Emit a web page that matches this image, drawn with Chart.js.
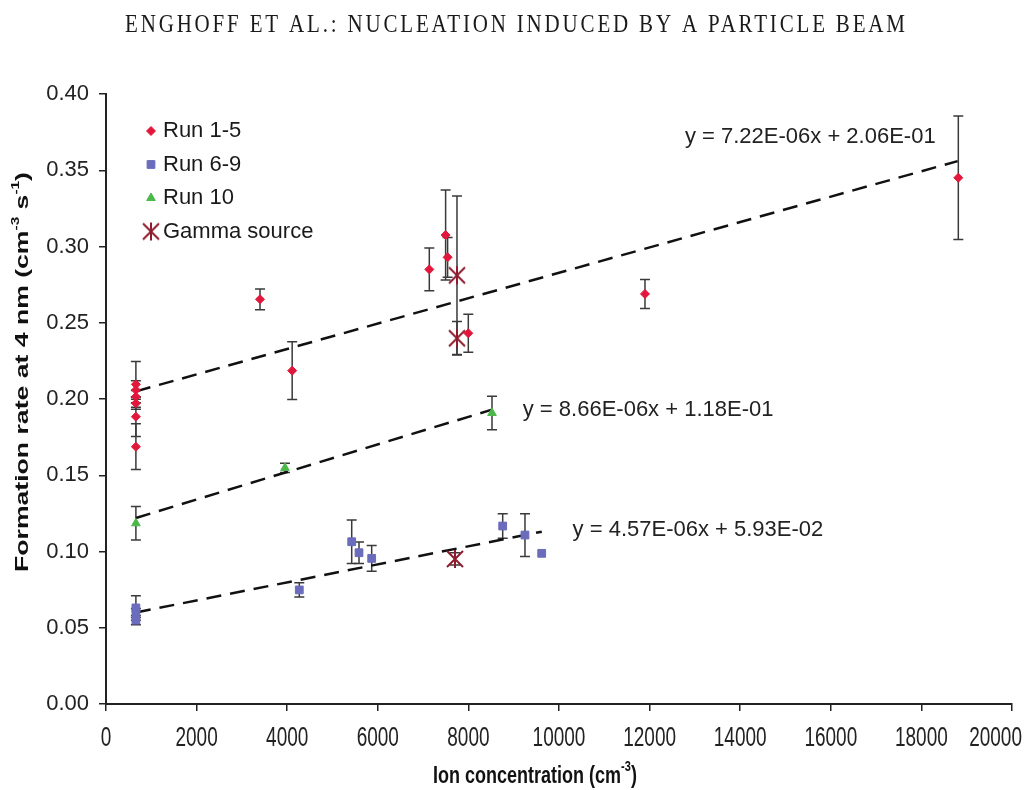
<!DOCTYPE html>
<html>
<head>
<meta charset="utf-8">
<script src="https://cdn.jsdelivr.net/npm/chart.js@4.4.1/dist/chart.umd.min.js"></script>
<style>
  html, body { margin: 0; padding: 0; background: #fff; }
</style>
</head>
<body>
<canvas id="chart" width="1024" height="790"></canvas>
<script>
// Run 1-5 (red diamonds)
const run15X = [660, 660, 660, 660, 660, 660, 3400, 4110, 7137, 7497, 7541, 7998, 11898, 18815];
const run15Y = [0.2096, 0.2059, 0.2015, 0.1972, 0.1884, 0.1687, 0.2654, 0.2186, 0.285, 0.3075, 0.2929, 0.2431, 0.2689, 0.3451];
const run15Err = [0.015, 0.006, 0.004, 0.004, 0.013, 0.015, 0.0068, 0.019, 0.014, 0.0295, 0.013, 0.0125, 0.0095, 0.0405];

// Run 6-9 (blue squares)
const run69X = [660, 660, 660, 4267, 5424, 5585, 5865, 8757, 9249, 9618];
const run69Y = [0.063, 0.0597, 0.055, 0.0748, 0.1064, 0.0992, 0.0955, 0.1167, 0.1108, 0.0988];
const run69Err = [0.008, 0.003, 0.003, 0.0047, 0.0142, 0.007, 0.0085, 0.008, 0.014, 0];

// Run 10 (green triangles)
const run10X = [660, 3951, 8521];
const run10Y = [0.1185, 0.1548, 0.1908];
const run10Err = [0.011, 0.003, 0.011];

// Gamma source
const gammaX = [7748, 7748, 7704];
const gammaY = [0.2811, 0.2398, 0.0951];
const gammaErr = [0.052, 0.011, 0.004];

// trend lines (end points as drawn)
const trend15X = [660, 18800], trend15Y = [0.205, 0.356];
const trend10X = [660, 8520], trend10Y = [0.122, 0.193];
const trend69X = [660, 9620], trend69Y = [0.060, 0.113];

const equations = ['y = 7.22E-06x + 2.06E-01', 'y = 8.66E-06x + 1.18E-01', 'y = 4.57E-06x + 5.93E-02'];
const legendLabels = ['Run 1-5', 'Run 6-9', 'Run 10', 'Gamma source'];
const titleText = 'ENGHOFF ET AL.: NUCLEATION INDUCED BY A PARTICLE BEAM';

const RED = '#e2173c', BLUE = '#6b6cbc', GREEN = '#4cb84a', GAMMA = '#8e1b2e';
const SANS = "'Liberation Sans', Arial, sans-serif";

// star-like marker for the gamma source (X with a vertical stroke)
function makeGammaMarker() {
    const c = document.createElement('canvas');
    c.width = 20; c.height = 20;
    const g = c.getContext('2d');
    g.strokeStyle = GAMMA;
    g.lineWidth = 2;
    g.beginPath();
    g.moveTo(2, 2); g.lineTo(18, 18);
    g.moveTo(18, 2); g.lineTo(2, 18);
    g.moveTo(10, 1); g.lineTo(10, 19);
    g.stroke();
    return c;
}
const gammaMarker = makeGammaMarker();

function points(xs, ys) {
    return xs.map((x, i) => ({ x: x, y: ys[i] }));
}

const errorSets = [run15Err, run69Err, run10Err, gammaErr];

// error bars under the markers
const errorBars = {
    id: 'errorBars',
    beforeDatasetsDraw(chart) {
        const ctx = chart.ctx;
        const xs = chart.scales.x, ys = chart.scales.y;
        ctx.save();
        ctx.strokeStyle = '#3a3a3a';
        ctx.lineWidth = 1.5;
        errorSets.forEach((errs, d) => {
            chart.data.datasets[d].data.forEach((p, i) => {
                const e = errs[i];
                if (!e) return;
                const px = xs.getPixelForValue(p.x);
                const top = ys.getPixelForValue(p.y + e);
                const bot = ys.getPixelForValue(p.y - e);
                ctx.beginPath();
                ctx.moveTo(px, top); ctx.lineTo(px, bot);
                ctx.moveTo(px - 5, top); ctx.lineTo(px + 5, top);
                ctx.moveTo(px - 5, bot); ctx.lineTo(px + 5, bot);
                ctx.stroke();
            });
        });
        ctx.restore();
    }
};

// text stretched along its own height, like the scanned figure
function tallText(ctx, text, x, y, stretch) {
    ctx.save();
    ctx.translate(x, y);
    ctx.scale(1, stretch);
    ctx.fillText(text, 0, 0);
    ctx.restore();
}

function drawRich(ctx, parts, x, y, size) {
    const widths = parts.map(p => {
        ctx.font = 'bold ' + (p.sup ? Math.round(size * 0.6) : size) + 'px ' + SANS;
        return ctx.measureText(p.t).width;
    });
    let cx = x - widths.reduce((a, b) => a + b, 0) / 2;
    parts.forEach((p, i) => {
        ctx.font = 'bold ' + (p.sup ? Math.round(size * 0.6) : size) + 'px ' + SANS;
        ctx.fillText(p.t, cx, p.sup ? y - size * 0.38 : y);
        cx += widths[i];
    });
}

const decorations = {
    id: 'decorations',
    afterDraw(chart) {
        const ctx = chart.ctx;
        const xs = chart.scales.x, ys = chart.scales.y;
        ctx.save();
        ctx.fillStyle = '#1a1a1a';
        ctx.textBaseline = 'middle';

        // page header
        ctx.font = "21px 'Liberation Serif', 'DejaVu Serif', serif";
        ctx.textAlign = 'left';
        const w = ctx.measureText(titleText).width;
        const spacing = Math.max(0, (780 - w) / (titleText.length - 1));
        ctx.letterSpacing = spacing + 'px';
        tallText(ctx, titleText, 125, 25, 1.2);
        ctx.letterSpacing = '0px';

        // x tick labels (last one kept inside the canvas)
        ctx.font = '19px ' + SANS;
        ctx.fillStyle = '#222';
        ctx.textAlign = 'center';
        xs.ticks.forEach(t => {
            const label = String(t.value);
            const half = ctx.measureText(label).width / 2;
            const cx = Math.min(xs.getPixelForValue(t.value), chart.width - 2 - half);
            tallText(ctx, label, cx, 738, 1.5);
        });

        // trend line equations
        ctx.font = '22px ' + SANS;
        ctx.textAlign = 'left';
        ctx.fillText(equations[0], xs.getPixelForValue(12780), ys.getPixelForValue(0.372));
        ctx.fillText(equations[1], xs.getPixelForValue(9200), ys.getPixelForValue(0.193));
        ctx.fillText(equations[2], xs.getPixelForValue(10300), ys.getPixelForValue(0.114));

        // legend
        const styles = [
            { pointStyle: 'rectRot', radius: 4.5, color: RED },
            { pointStyle: 'rect', radius: 5.5, color: BLUE },
            { pointStyle: 'triangle', radius: 5, color: GREEN },
            { pointStyle: gammaMarker, radius: 9, color: GAMMA }
        ];
        legendLabels.forEach((label, i) => {
            const ly = 131 + i * 33.5;
            const s = styles[i];
            ctx.fillStyle = s.color;
            ctx.strokeStyle = s.color;
            ctx.lineWidth = 1;
            Chart.helpers.drawPoint(ctx, { pointStyle: s.pointStyle, radius: s.radius, rotation: 0, borderWidth: 1 }, 151, ly);
            ctx.fillStyle = '#1a1a1a';
            ctx.font = '22px ' + SANS;
            ctx.textAlign = 'left';
            ctx.fillText(label, 163, ly);
        });

        // axis titles
        ctx.fillStyle = '#111';
        ctx.textAlign = 'left';
        ctx.save();
        ctx.translate(535, 776);
        ctx.scale(1, 1.35);
        drawRich(ctx, [{ t: 'Ion concentration (cm' }, { t: '-3', sup: true }, { t: ')' }], 0, 0, 18);
        ctx.restore();
        ctx.translate(23, 372);
        ctx.rotate(-Math.PI / 2);
        ctx.scale(1.4, 1);
        drawRich(ctx, [{ t: 'Formation rate at 4 nm (cm' }, { t: '-3', sup: true }, { t: ' s' }, { t: '-1', sup: true }, { t: ')' }], 0, 0, 19);
        ctx.restore();
    }
};

const trendStyle = {
    type: 'line',
    borderColor: '#111',
    borderWidth: 2.5,
    borderDash: [15, 9],
    pointRadius: 0,
    fill: false,
    showLine: true
};

new Chart(document.getElementById('chart'), {
    type: 'scatter',
    data: {
        datasets: [
            { label: legendLabels[0], data: points(run15X, run15Y), pointStyle: 'rectRot', pointRadius: 4.5, backgroundColor: RED, borderColor: RED, borderWidth: 1 },
            { label: legendLabels[1], data: points(run69X, run69Y), pointStyle: 'rect', pointRadius: 5.5, backgroundColor: BLUE, borderColor: BLUE, borderWidth: 1 },
            { label: legendLabels[2], data: points(run10X, run10Y), pointStyle: 'triangle', pointRadius: 5, backgroundColor: GREEN, borderColor: GREEN, borderWidth: 1 },
            { label: legendLabels[3], data: points(gammaX, gammaY), pointStyle: gammaMarker, pointRadius: 9 },
            Object.assign({ label: 'trend 1-5', data: points(trend15X, trend15Y) }, trendStyle),
            Object.assign({ label: 'trend 10', data: points(trend10X, trend10Y) }, trendStyle),
            Object.assign({ label: 'trend 6-9', data: points(trend69X, trend69Y) }, trendStyle)
        ]
    },
    options: {
        responsive: false,
        animation: false,
        layout: { padding: { top: 94, right: 12, left: 0, bottom: 0 } },
        plugins: {
            legend: { display: false },
            tooltip: { enabled: false }
        },
        scales: {
            x: {
                type: 'linear',
                min: 0,
                max: 20000,
                afterFit: (scale) => {
                    scale.height = 86;
                    scale.paddingLeft = 0;
                    scale.paddingRight = 0;
                },
                border: { display: true, color: '#222', width: 2 },
                grid: { display: true, drawOnChartArea: false, drawTicks: true, tickLength: 7, color: '#222', lineWidth: 1.5 },
                ticks: {
                    stepSize: 2000,
                    padding: 8,
                    color: 'rgba(0,0,0,0)',
                    maxRotation: 0,
                    autoSkip: false,
                    font: { family: SANS, size: 19 }
                }
            },
            y: {
                type: 'linear',
                min: 0,
                max: 0.4,
                afterFit: (scale) => { scale.width = 106; },
                border: { display: true, color: '#222', width: 2 },
                grid: { display: true, drawOnChartArea: false, drawTicks: true, tickLength: 7, color: '#222', lineWidth: 1.5 },
                ticks: {
                    stepSize: 0.05,
                    padding: 10,
                    color: '#222',
                    font: { family: SANS, size: 22 },
                    callback: (v) => Number(v).toFixed(2)
                }
            }
        }
    },
    plugins: [errorBars, decorations]
});
</script>
</body>
</html>
